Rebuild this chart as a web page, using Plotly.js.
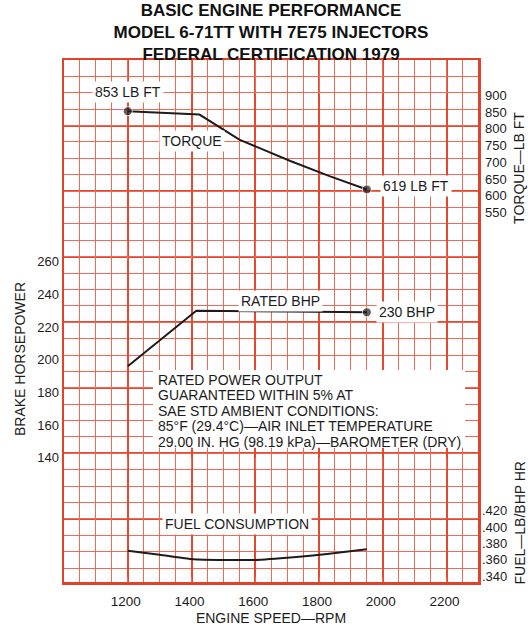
<!DOCTYPE html>
<html><head><meta charset="utf-8">
<script src="https://cdn.plot.ly/plotly-3.0.1.min.js"></script>
<style>html,body{margin:0;padding:0;background:#fff}</style>
</head><body><div id="chart" style="width:528px;height:630px"></div>
<script>
// ---- data ----
const torqueRpm = [1200, 1425, 1550, 1710, 1835, 1950];
const torqueLbFt = [853, 843, 768, 704, 658, 619];
const bhpRpm = [1200, 1415, 1700, 1950];
const bhpValues = [196, 230, 229.5, 229];
const fuelRpm = [1200, 1300, 1405, 1510, 1595, 1720, 1825, 1950];
const fuelValues = [0.371, 0.366, 0.3605, 0.3596, 0.3596, 0.363, 0.367, 0.3727];
const rpmTicks = [1200, 1400, 1600, 1800, 2000, 2200];
const bhpTicks = [140, 160, 180, 200, 220, 240, 260];
const torqueTicks = [550, 600, 650, 700, 750, 800, 850, 900];
const fuelTicks = [0.34, 0.36, 0.38, 0.40, 0.42];
const fuelTickText = ['.340', '.360', '.380', '.400', '.420'];
const titleLines = ['BASIC ENGINE PERFORMANCE', 'MODEL 6-71TT WITH 7E75 INJECTORS', 'FEDERAL CERTIFICATION 1979'];
const noteLines = ['RATED POWER OUTPUT', 'GUARANTEED WITHIN 5% AT', 'SAE STD AMBIENT CONDITIONS:',
  '85°F (29.4°C)—AIR INLET TEMPERATURE', '29.00 IN. HG (98.19 kPa)—BAROMETER (DRY)'];

// ---- styling ----
const FONT = 'Liberation Sans, Arial, Helvetica, sans-serif';
const INK = '#1c1c1c';
const RED = '#e5472f';
const RED_FINE = '#ec6b57';
const RED_BORDER = '#e2412b';
const X_RANGE = [1000, 2298.6];
const CELL_RANGE = [0.15, 32];

const endMarkers = arr => arr.map((_, i) => (i === 0 || i === arr.length - 1) ? 9 : 0);
const lastMarker = arr => arr.map((_, i) => (i === arr.length - 1) ? 9 : 0);

const traces = [
  // empty traces that create the chart-paper grid subplots
  {x: [], y: [], xaxis: 'x', yaxis: 'y', type: 'scatter', mode: 'lines', hoverinfo: 'skip'},
  {x: [], y: [], xaxis: 'x5', yaxis: 'y5', type: 'scatter', mode: 'lines', hoverinfo: 'skip'},
  {x: torqueRpm, y: torqueLbFt, xaxis: 'x', yaxis: 'y3', mode: 'lines+markers', name: 'Torque',
   line: {color: INK, width: 2}, marker: {color: INK, size: endMarkers(torqueRpm)}, cliponaxis: false},
  {x: bhpRpm, y: bhpValues, xaxis: 'x', yaxis: 'y2', mode: 'lines+markers', name: 'Rated BHP',
   line: {color: INK, width: 2}, marker: {color: INK, size: lastMarker(bhpRpm)}, cliponaxis: false},
  {x: fuelRpm, y: fuelValues, xaxis: 'x', yaxis: 'y4', mode: 'lines', name: 'Fuel consumption',
   line: {color: INK, width: 2, shape: 'spline', smoothing: 0.6}}
];

const lab = (o) => Object.assign({showarrow: false, font: {family: FONT, size: 14, color: INK},
  bgcolor: 'white', borderpad: 2}, o);

const annotations = [
  lab({xref: 'x', yref: 'y3', x: torqueRpm[0], y: torqueLbFt[0], text: torqueLbFt[0] + ' LB FT', yshift: 19}),
  lab({xref: 'x', yref: 'y3', x: torqueRpm[torqueRpm.length - 1], y: torqueLbFt[torqueLbFt.length - 1],
       text: torqueLbFt[torqueLbFt.length - 1] + ' LB FT', xanchor: 'left', xshift: 13, yshift: 3}),
  lab({xref: 'x', yref: 'y3', x: 1400, y: 765, text: 'TORQUE'}),
  lab({xref: 'x', yref: 'y2', x: 1680, y: 236, text: 'RATED BHP'}),
  lab({xref: 'x', yref: 'y2', x: bhpRpm[bhpRpm.length - 1], y: bhpValues[bhpValues.length - 1],
       text: '230 BHP', xanchor: 'left', xshift: 9}),
  lab({xref: 'x', yref: 'y4', x: 1542, y: 0.4037, text: 'FUEL CONSUMPTION'})
];
noteLines.forEach((t, i) => annotations.push({xref: 'x', yref: 'y2', x: 1288, y: 187.6 - i * 9.43,
  xanchor: 'left', yanchor: 'middle', showarrow: false, text: t, font: {family: FONT, size: 14, color: INK}}));

const sideAxis = (o) => Object.assign({anchor: 'x', showgrid: false, zeroline: false, showline: false,
  ticks: '', tickfont: {family: FONT, size: 13, color: INK}, fixedrange: true}, o);

const layout = {
  width: 528, height: 630,
  margin: {l: 64, r: 50, t: 60, b: 48, pad: 0},
  paper_bgcolor: 'white', plot_bgcolor: 'rgba(0,0,0,0)',
  showlegend: false,
  font: {family: FONT, color: INK},
  title: {text: titleLines.map(t => '<b>' + t + '</b>').join('<br>'),
          font: {family: FONT, size: 17, color: '#111'},
          x: 0.5, xref: 'paper', xanchor: 'center', y: 1 - 15.5 / 630, yref: 'container', yanchor: 'middle'},
  // heavy lines every 200 rpm, with the rpm labels
  xaxis: {
    anchor: 'y', domain: [0, 1],
    range: X_RANGE, tickvals: rpmTicks, ticks: '',
    showgrid: true, gridcolor: RED, gridwidth: 2,
    showline: true, mirror: true, linecolor: RED_BORDER, linewidth: 2.5, zeroline: false,
    tickfont: {family: FONT, size: 13.5, color: INK}, ticklabelstandoff: 5, ticklabelshift: -2,
    title: {text: 'ENGINE SPEED—RPM', font: {family: FONT, size: 14, color: INK}, standoff: 6},
    fixedrange: true
  },
  // heavy lines every 4 cells
  yaxis: {
    anchor: 'x', domain: [0, 1],
    range: CELL_RANGE, tick0: 0, dtick: 4, showticklabels: false, ticks: '',
    showgrid: true, gridcolor: RED, gridwidth: 2,
    showline: true, mirror: true, linecolor: RED_BORDER, linewidth: 2.5, zeroline: false, fixedrange: true
  },
  // fine chart-paper lines
  xaxis5: {overlaying: 'x', anchor: 'y5', range: X_RANGE, tick0: 1000, dtick: 50, showticklabels: false,
    ticks: '', showgrid: true, gridcolor: RED_FINE, gridwidth: 1, zeroline: false, showline: false, fixedrange: true},
  yaxis5: {overlaying: 'y', anchor: 'x5', range: CELL_RANGE, tick0: 0, dtick: 1, showticklabels: false,
    ticks: '', showgrid: true, gridcolor: RED_FINE, gridwidth: 1, zeroline: false, showline: false, fixedrange: true},
  yaxis2: sideAxis({side: 'left', domain: [0.23755, 0.61686], range: [139.8, 261.0], tickvals: bhpTicks,
    ticklabelstandoff: 4,
    title: {text: 'BRAKE HORSEPOWER', font: {family: FONT, size: 14, color: INK}, standoff: 8}}),
  yaxis3: sideAxis({side: 'right', domain: [0.65230, 0.93391], range: [463.25, 903.0], tickvals: torqueTicks,
    ticklabelstandoff: 6,
    title: {text: 'TORQUE—LB FT', font: {family: FONT, size: 14, color: INK}, standoff: 8}}),
  yaxis4: sideAxis({side: 'right', domain: [0.009579, 0.21743], range: [0.33878, 0.4717], tickvals: fuelTicks,
    ticktext: fuelTickText, ticklabelstandoff: 3,
    title: {text: 'FUEL—LB/BHP HR', font: {family: FONT, size: 14, color: INK}, standoff: 8}}),
  shapes: [{type: 'rect', xref: 'x', yref: 'y2', x0: 1279, x1: 2258, y0: 146, y1: 193.7,
            fillcolor: 'white', line: {width: 0}, layer: 'above'}],
  annotations: annotations
};

Plotly.newPlot('chart', traces, layout, {displayModeBar: false, staticPlot: true});
</script></body></html>
